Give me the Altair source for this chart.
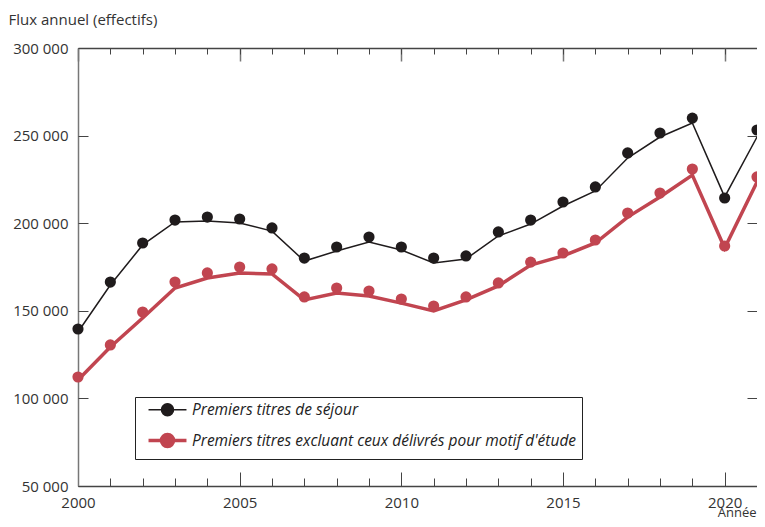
import altair as alt
import pandas as pd

# ---- data ----
annees = list(range(2000, 2022))
titres_points = [139600, 166400, 188700, 201800, 203500, 202400, 197300, 180100, 186400, 192100, 186400,
                 180100, 181300, 195000, 201800, 212100, 220700, 240100, 251500, 260000, 214400, 253200]
titres_ligne = [137900, 164700, 187600, 200700, 201300, 200100, 195500, 178400, 184100, 189300, 184700,
                177300, 179600, 192700, 199500, 209800, 218400, 237200, 249200, 257200, 215000, 249200]
hors_etudes_points = [112200, 130500, 149300, 166400, 171600, 175000, 173900, 157900, 163000, 161300, 156700,
                      152700, 157900, 165900, 177800, 183000, 190400, 205800, 217200, 230900, 187000, 226400]
hors_etudes_ligne = [110500, 129300, 145900, 163000, 168700, 171600, 171000, 156200, 160200, 158400, 154400,
                     149900, 156200, 164200, 176100, 181300, 188700, 203500, 215000, 227500, 185800, 223500]
series = ["Premiers titres de séjour", "Premiers titres excluant ceux délivrés pour motif d'étude"]
couleurs = ["#1f1b1c", "#c14550"]
epaisseurs = [1.5, 3.5]
y_valeurs = [50000, 100000, 150000, 200000, 250000, 300000]
x_majeurs = [2000, 2005, 2010, 2015, 2020]

rows = []
for i, a in enumerate(annees):
    rows.append({"annee": a, "serie": series[0], "ligne": titres_ligne[i], "point": titres_points[i]})
    rows.append({"annee": a, "serie": series[1], "ligne": hors_etudes_ligne[i], "point": hors_etudes_points[i]})
df = pd.DataFrame(rows)

FONT = "Open Sans"
TXT = "#333333"
AXC = "#444444"

xs = alt.Scale(domain=[2000, 2021], nice=False, zero=False)
ys = alt.Scale(domain=[50000, 300000], nice=False, zero=False)
cs = alt.Scale(domain=series, range=couleurs)
ws = alt.Scale(domain=series, range=epaisseurs, padding=0)

sym = "M-3,0H3M-0.95,0A0.95,0.95,0,1,1,0.95,0A0.95,0.95,0,1,1,-0.95,0"
leg = alt.Legend(title=None, orient="none", legendX=57, legendY=349, direction="vertical",
                 fillColor="white", strokeColor="#222222", padding=5,
                 symbolType=sym, symbolSize=160, symbolOffset=19, labelOffset=16, rowPadding=8,
                 labelFont=FONT, labelFontSize=15.5, labelFontStyle="italic", labelColor="#222222",
                 labelExpr="datum.label + '   '", labelLimit=0)

ylab = "replace(format(datum.value, ',d'), ',', ' ')"


def xax(**kw):
    base = dict(title=None, grid=False, labels=False, domain=False, ticks=False)
    base.update(kw)
    return alt.Axis(**base)


def yax(**kw):
    base = dict(title=None, grid=False, labels=False, domain=False, ticks=False, values=y_valeurs)
    base.update(kw)
    return alt.Axis(**base)


base = alt.Chart(df)

# black/red lines, with main axes (domain + labels)
lignes = base.mark_line(strokeJoin="miter").encode(
    x=alt.X("annee:Q", scale=xs, axis=xax(orient="bottom", domain=True, domainColor=AXC, domainWidth=1.5,
                                         labels=True, values=x_majeurs, labelPadding=9, format="d",
                                         labelFlush=False, labelOverlap=False,
                                         labelFont=FONT, labelFontSize=15, labelColor=TXT,
                                         title="Année", titleFont=FONT, titleFontSize=13, titleFontWeight="normal",
                                         titleColor=TXT, titleX=678, titleY=30, titleAlign="right",
                                         titleBaseline="alphabetic")),
    y=alt.Y("ligne:Q", scale=ys, axis=yax(orient="left", domain=True, domainColor="#777777", domainWidth=1.5,
                                          labels=True, labelExpr=ylab, labelPadding=10,
                                          labelFlush=False, labelOverlap=False,
                                          labelFont=FONT, labelFontSize=15, labelColor=TXT,
                                          title="Flux annuel (effectifs)", titleFont=FONT, titleFontSize=15,
                                          titleFontWeight="normal", titleColor=TXT, titleAngle=0,
                                          titleX=-70, titleY=-24, titleAlign="left", titleBaseline="alphabetic")),
    color=alt.Color("serie:N", scale=cs, legend=leg),
    strokeWidth=alt.StrokeWidth("serie:N", scale=ws, legend=leg),
)

points = base.mark_point(filled=True, size=125, opacity=1).encode(
    x=alt.X("annee:Q", scale=xs, axis=xax(orient="bottom", ticks=True, tickSize=14, offset=-14,
                                         values=x_majeurs, tickColor=AXC, tickWidth=1)),
    y=alt.Y("point:Q", scale=ys, axis=yax(orient="left", ticks=True, tickSize=10, offset=-10,
                                          tickColor=AXC, tickWidth=1)),
    color=alt.Color("serie:N", scale=cs, legend=leg),
)

inv = base.mark_point(opacity=0)

l3 = inv.encode(
    x=alt.X("annee:Q", scale=xs, axis=xax(orient="bottom", ticks=True, tickSize=8, offset=-8,
                                         values=annees, tickColor=AXC, tickWidth=1)),
    y=alt.Y("point:Q", scale=ys, axis=yax(orient="right", ticks=True, tickSize=10, offset=-10,
                                          tickColor=AXC, tickWidth=1)),
)
l4 = inv.encode(
    x=alt.X("annee:Q", scale=xs, axis=xax(orient="top", domain=True, domainColor=AXC, domainWidth=1.5)),
    y=alt.Y("point:Q", scale=ys, axis=None),
)
l5 = inv.encode(
    x=alt.X("annee:Q", scale=xs, axis=xax(orient="top", ticks=True, tickSize=13, offset=-13,
                                         values=x_majeurs, tickColor="#777777", tickWidth=1.5)),
    y=alt.Y("point:Q", scale=ys, axis=None),
)
l6 = inv.encode(
    x=alt.X("annee:Q", scale=xs, axis=xax(orient="top", ticks=True, tickSize=6, offset=-6,
                                         values=annees, tickColor=AXC, tickWidth=1)),
    y=alt.Y("point:Q", scale=ys, axis=None),
)

chart = alt.layer(lignes, points, l3, l4, l5, l6).resolve_axis(x="independent", y="independent").properties(
    width=679, height=438,
    autosize=alt.AutoSizeParams(type="none"),
    padding={"left": 70, "top": 40, "right": 0, "bottom": 33},
).configure_view(strokeWidth=0)

chart.save("out.html", embed_options={"renderer": "svg", "actions": False})
